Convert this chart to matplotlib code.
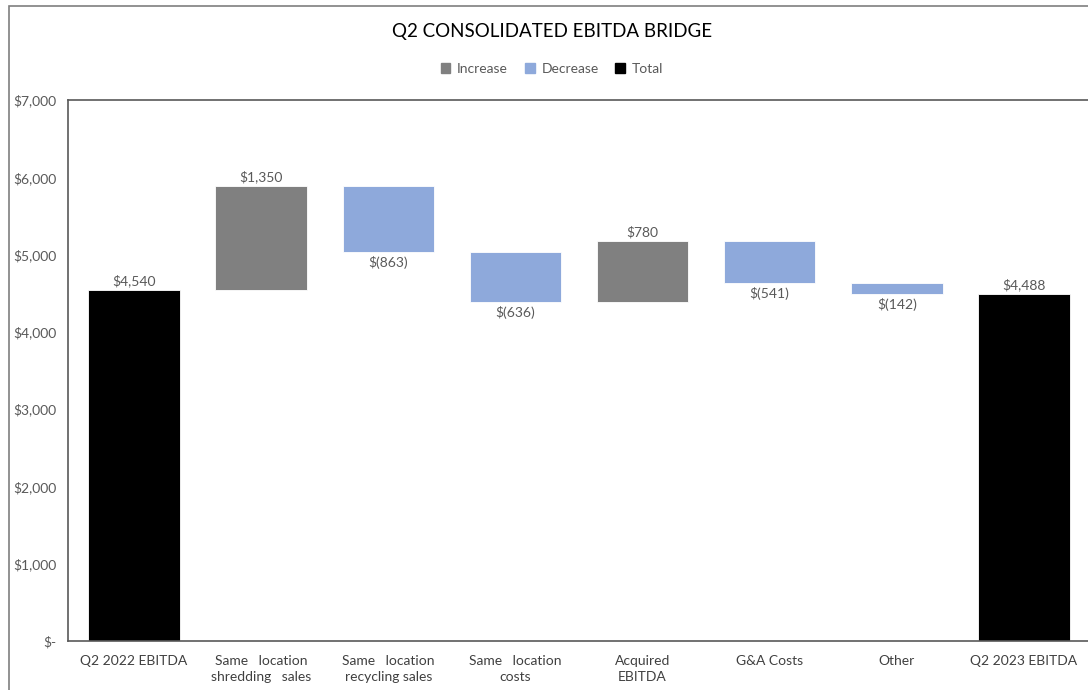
import matplotlib
matplotlib.use('Agg')
import matplotlib.pyplot as plt
import numpy as np
from matplotlib.patches import Patch, Rectangle
from matplotlib.ticker import FuncFormatter

# Data
categories = ['Q2 2022 EBITDA', 'Same   location\nshredding   sales', 'Same   location\nrecycling sales',
              'Same   location\ncosts', 'Acquired\nEBITDA', 'G&A Costs', 'Other', 'Q2 2023 EBITDA']
start_total = 4540
changes = [1350, -863, -636, 780, -541, -142]
end_total = 4488

inc_color = '#808080'
dec_color = '#8EA9DB'
tot_color = '#000000'
text_color = '#595959'

plt.rcParams['font.family'] = ['Lato', 'DejaVu Sans']

fig = plt.figure(figsize=(10.88, 6.9), dpi=100)
ax = fig.add_axes([68 / 1088, 49 / 690, 1022 / 1088, 541 / 690])

# outer chart border (cropped at right and bottom)
fig.patches.append(Rectangle((9 / 1088, -0.05), 1.2, 0.05 + 684 / 690, transform=fig.transFigure,
                             fill=False, edgecolor='#7f7f7f', linewidth=1.2))

x = np.arange(len(categories))
width = 0.72

# totals
ax.bar(x[0], start_total, width, color=tot_color, edgecolor='white', linewidth=0.6)
ax.bar(x[-1], end_total, width, color=tot_color, edgecolor='white', linewidth=0.6)
ax.text(x[0], start_total + 35, f'${start_total:,}', ha='center', va='bottom', fontsize=10, color=text_color)
ax.text(x[-1], end_total + 35, f'${end_total:,}', ha='center', va='bottom', fontsize=10, color=text_color)

level = start_total
for i, c in enumerate(changes, start=1):
    if c >= 0:
        ax.bar(x[i], c, width, bottom=level, color=inc_color, edgecolor='white', linewidth=0.6)
        ax.text(x[i], level + c + 35, f'${c:,}', ha='center', va='bottom', fontsize=10, color=text_color)
    else:
        ax.bar(x[i], c, width, bottom=level, color=dec_color, edgecolor='white', linewidth=0.6)
        ax.text(x[i], level + c - 50, f'$({-c:,})', ha='center', va='top', fontsize=10, color=text_color)
    level += c

ax.set_ylim(0, 7000)
ax.set_xlim(-0.52, len(categories) - 0.48)
ax.set_yticks(np.arange(0, 7001, 1000))
ax.yaxis.set_major_formatter(FuncFormatter(lambda v, p: '$-' if v == 0 else f'${v:,.0f}'))
ax.set_xticks(x)
ax.set_xticklabels(categories, fontsize=10, color='#404040', linespacing=1.45)
ax.tick_params(axis='both', length=0, labelsize=10)
ax.tick_params(axis='y', colors=text_color, pad=8)
ax.tick_params(axis='x', pad=10)

for s in ['left', 'top', 'bottom']:
    ax.spines[s].set_color('#595959')
    ax.spines[s].set_linewidth(1.2)
ax.spines['right'].set_visible(False)

fig.text(552 / 1088, 1 - 31 / 690, 'Q2 CONSOLIDATED EBITDA BRIDGE', ha='center', va='center',
         fontsize=13.5, color='#000000')

handles = [Patch(color=inc_color, label='Increase'), Patch(color=dec_color, label='Decrease'),
           Patch(color=tot_color, label='Total')]
fig.legend(handles=handles, loc='center', bbox_to_anchor=(552 / 1088, 1 - 69 / 690), ncol=3, frameon=False,
           fontsize=10, handlelength=0.7, handleheight=0.7, handletextpad=0.5, columnspacing=1.2,
           labelcolor=text_color)

fig.savefig('out.png', dpi=100)
